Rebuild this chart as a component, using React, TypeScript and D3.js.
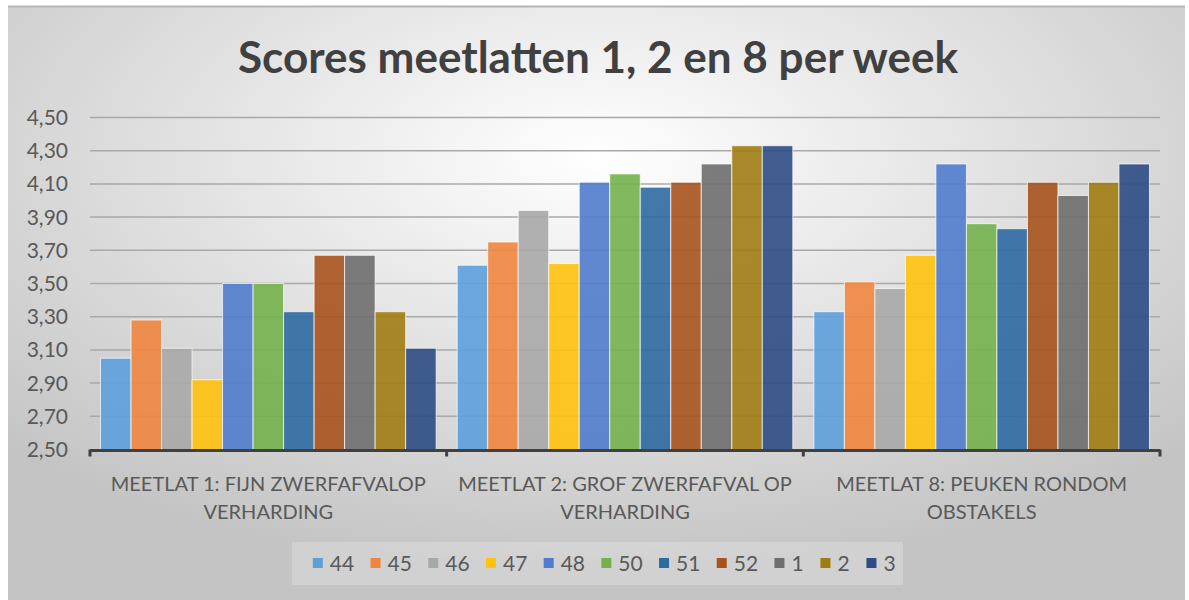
import React from "react"
import * as d3 from "d3"

// Data
const categories = [
  ["MEETLAT 1: FIJN ZWERFAFVALOP", "VERHARDING"],
  ["MEETLAT 2: GROF ZWERFAFVAL OP", "VERHARDING"],
  ["MEETLAT 8: PEUKEN RONDOM", "OBSTAKELS"],
]
const weeks = ["44", "45", "46", "47", "48", "50", "51", "52", "1", "2", "3"]
const meetlat1 = [3.05, 3.28, 3.11, 2.92, 3.5, 3.5, 3.33, 3.67, 3.67, 3.33, 3.11]
const meetlat2 = [3.61, 3.75, 3.94, 3.62, 4.11, 4.16, 4.08, 4.11, 4.22, 4.33, 4.33]
const meetlat8 = [3.33, 3.51, 3.47, 3.67, 4.22, 3.86, 3.83, 4.11, 4.03, 4.11, 4.22]
const yTicks = [2.5, 2.7, 2.9, 3.1, 3.3, 3.5, 3.7, 3.9, 4.1, 4.3, 4.5]
const colors = [
  "#5d9fdb", "#ef8640", "#a8a8a8", "#ffc20e", "#4f7ccc", "#74b04c",
  "#2f6aa1", "#a8531d", "#6e6e6e", "#a07c12", "#2d4d84",
]

const values = [meetlat1, meetlat2, meetlat8]

export default function App() {
  const totalW = 1189
  const totalH = 600
  const plot = { left: 90, right: 1160, top: 117.5, bottom: 449.5 }

  // Scales
  const xScale = d3
    .scaleBand<number>()
    .domain(d3.range(categories.length))
    .range([plot.left, plot.right])
  const xInner = d3
    .scaleBand<string>()
    .domain(weeks)
    .range([0, xScale.bandwidth()])
    .paddingInner(0)
    .paddingOuter(0.345)
  const yScale = d3.scaleLinear().domain([2.5, 4.5]).range([plot.bottom, plot.top])
  const fmt = (v: number) => d3.format(".2f")(v).replace(".", ",")

  // Legend layout
  const digitW = 11.7
  const itemW = weeks.map((w) => 10 + 7 + w.length * digitW + 17.3)
  const legendTotal = d3.sum(itemW) - 17.3
  const legendStart = 604 - legendTotal / 2
  const legendX = itemW.map((_, i) => legendStart + d3.sum(itemW.slice(0, i)))

  const font = "Lato, 'Open Sans', sans-serif"

  return (
    <div style={{ position: "absolute", left: 0, top: 0 }}>
      <svg width={totalW} height={totalH} style={{ display: "block", background: "#fff" }}>
        <defs>
          <radialGradient id="bg" cx="50%" cy="25%" r="70%">
            <stop offset="0%" stopColor="#ffffff" />
            <stop offset="100%" stopColor="#c4c4c4" />
          </radialGradient>
        </defs>
        <rect x={8} y={6} width={1177} height={600} fill="url(#bg)" />
        <line x1={8} x2={1185} y1={6.5} y2={6.5} stroke="#b5b5b5" strokeWidth={2} />

        {/* Title */}
        <text
          x={598}
          y={73}
          textAnchor="middle"
          fontFamily={font}
          fontWeight={700}
          fontSize={43}
          fill="#404040"
          textLength={720}
          lengthAdjust="spacingAndGlyphs"
        >
          Scores meetlatten 1, 2 en 8 per week
        </text>

        {/* Gridlines and y labels */}
        {yTicks.map((t) => (
          <g key={`tick-${t}`}>
            {t > 2.5 && (
              <line
                x1={plot.left}
                x2={plot.right}
                y1={yScale(t)}
                y2={yScale(t)}
                stroke="#a9a9a9"
                strokeWidth={1.5}
              />
            )}
            <text
              x={68}
              y={yScale(t)}
              dy="0.36em"
              textAnchor="end"
              fontFamily={font}
              fontSize={21}
              fill="#595959"
            >
              {fmt(t)}
            </text>
          </g>
        ))}

        {/* Bars */}
        {values.map((series, c) =>
          series.map((v, i) => (
            <rect
              key={`bar-${c}-${i}`}
              x={(xScale(c) as number) + (xInner(weeks[i]) as number)}
              y={yScale(v)}
              width={xInner.bandwidth()}
              height={plot.bottom - yScale(v)}
              fill={colors[i]}
              fillOpacity={0.9}
              stroke="#ffffff"
              strokeOpacity={0.7}
              strokeWidth={1}
            />
          ))
        )}

        {/* X axis */}
        <line
          x1={plot.left}
          x2={plot.right}
          y1={plot.bottom + 1}
          y2={plot.bottom + 1}
          stroke="#404040"
          strokeWidth={3}
        />
        {d3.range(categories.length + 1).map((i) => {
          const x = plot.left + i * xScale.bandwidth()
          return (
            <line
              key={`xt-${i}`}
              x1={x}
              x2={x}
              y1={plot.bottom}
              y2={plot.bottom + 7}
              stroke="#404040"
              strokeWidth={3}
            />
          )
        })}
        {categories.map((lines, c) => (
          <text
            key={`cat-${c}`}
            textAnchor="middle"
            fontFamily={font}
            fontSize={20}
            fill="#595959"
          >
            {lines.map((l, j) => (
              <tspan key={j} x={(xScale(c) as number) + xScale.bandwidth() / 2} y={491 + j * 28}>
                {l}
              </tspan>
            ))}
          </text>
        ))}

        {/* Legend */}
        <rect x={292} y={542} width={611} height={43} fill="#ffffff" fillOpacity={0.22} />
        {weeks.map((w, i) => (
          <g key={`leg-${w}`} transform={`translate(${legendX[i]}, 0)`}>
            <rect x={0} y={558} width={10} height={10} fill={colors[i]} />
            <text x={17} y={571} fontFamily={font} fontSize={21} fill="#595959">
              {w}
            </text>
          </g>
        ))}
      </svg>
    </div>
  )
}
